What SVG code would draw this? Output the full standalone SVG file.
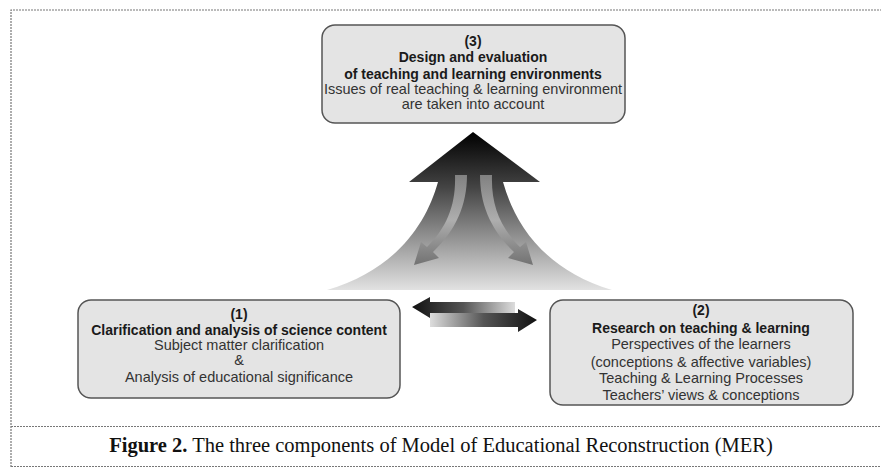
<svg xmlns="http://www.w3.org/2000/svg" width="882" height="468" viewBox="0 0 882 468">
<defs>
<style>
.box{fill:#e4e4e4;stroke:#555;stroke-width:1.5}
.t{font-family:"Liberation Sans",Arial,sans-serif;font-size:14.5px;fill:#333;text-anchor:middle}
.b{font-family:"Liberation Sans",Arial,sans-serif;font-size:14px;font-weight:bold;fill:#1a1a1a;text-anchor:middle}
.frame{stroke:#777;stroke-width:1.2;stroke-dasharray:2 1;fill:none}
.cap{font-family:"Liberation Serif","Times New Roman",serif;font-size:20.5px;fill:#111;text-anchor:middle}
</style>
<linearGradient id="bigG" x1="0" y1="0" x2="0" y2="1">
<stop offset="0" stop-color="#000"/>
<stop offset="0.35" stop-color="#444"/>
<stop offset="0.7" stop-color="#9a9a9a"/>
<stop offset="1" stop-color="#e2e2e2"/>
</linearGradient>
<linearGradient id="curG" x1="0" y1="0" x2="0" y2="1">
<stop offset="0" stop-color="#8a8a8a"/>
<stop offset="0.5" stop-color="#b4b4b4"/>
<stop offset="1" stop-color="#6a6a6a"/>
</linearGradient>
<linearGradient id="lG" x1="0" y1="0" x2="1" y2="0">
<stop offset="0" stop-color="#111"/>
<stop offset="0.5" stop-color="#555"/>
<stop offset="1" stop-color="#ddd"/>
</linearGradient>
<linearGradient id="rG" x1="0" y1="0" x2="1" y2="0">
<stop offset="0" stop-color="#ddd"/>
<stop offset="0.5" stop-color="#555"/>
<stop offset="1" stop-color="#111"/>
</linearGradient>
</defs>
<rect width="882" height="468" fill="#fff"/>
<g id="frame">
<path class="frame" d="M11 467 V10 H881"/>
<path class="frame" d="M11 426.5 H881"/>
<path class="frame" d="M11 466.5 H881"/>
</g>
<g id="connectors">
<path d="M473 132 L540 182 L503 182 C515 225 545 270 612 290 L327 290 C395 270 426 225 438 182 L409 182 Z" fill="url(#bigG)"/>
<path d="M455 175 L467 175 C467 205 456 230 433 252 L439 258 L414 265 L421 242 L427 247 C447 227 456 205 455 175 Z" fill="url(#curG)" opacity="0.9"/>
<path d="M492 175 L480 175 C480 205 491 230 514 252 L508 258 L533 265 L526 242 L520 247 C500 227 491 205 492 175 Z" fill="url(#curG)" opacity="0.9"/>
<path d="M412 307 L430 297 L430 302 L515 302 L515 313 L430 313 L430 318 Z" fill="url(#lG)"/>
<path d="M537 320 L518 309 L518 313 L430 313 L430 327 L518 327 L518 332 Z" fill="url(#rG)"/>
</g>
<g id="node3">
<rect class="box" x="322" y="25" width="303" height="98" rx="13"/>
<text class="b" x="473" y="46">(3)</text>
<text class="b" x="473" y="62">Design and evaluation</text>
<text class="b" x="473" y="79">of teaching and learning environments</text>
<text class="t" x="473" y="94">Issues of real teaching &amp; learning environment</text>
<text class="t" x="473" y="109">are taken into account</text>
</g>
<g id="node1">
<rect class="box" x="78" y="300" width="322" height="98" rx="13"/>
<text class="b" x="239" y="319">(1)</text>
<text class="b" x="239" y="335">Clarification and analysis of science content</text>
<text class="t" x="239" y="350">Subject matter clarification</text>
<text class="t" x="239" y="365">&amp;</text>
<text class="t" x="239" y="382">Analysis of educational significance</text>
</g>
<g id="node2">
<rect class="box" x="550" y="300" width="303" height="105" rx="13"/>
<text class="b" x="701" y="315">(2)</text>
<text class="b" x="701" y="333">Research on teaching &amp; learning</text>
<text class="t" x="701" y="349">Perspectives of the learners</text>
<text class="t" x="701" y="367">(conceptions &amp; affective variables)</text>
<text class="t" x="701" y="383">Teaching &amp; Learning Processes</text>
<text class="t" x="701" y="400">Teachers’ views &amp; conceptions</text>
</g>
<g id="caption">
<text class="cap" x="441" y="452"><tspan font-weight="bold">Figure 2.</tspan> The three components of Model of Educational Reconstruction (MER)</text>
</g>
</svg>
